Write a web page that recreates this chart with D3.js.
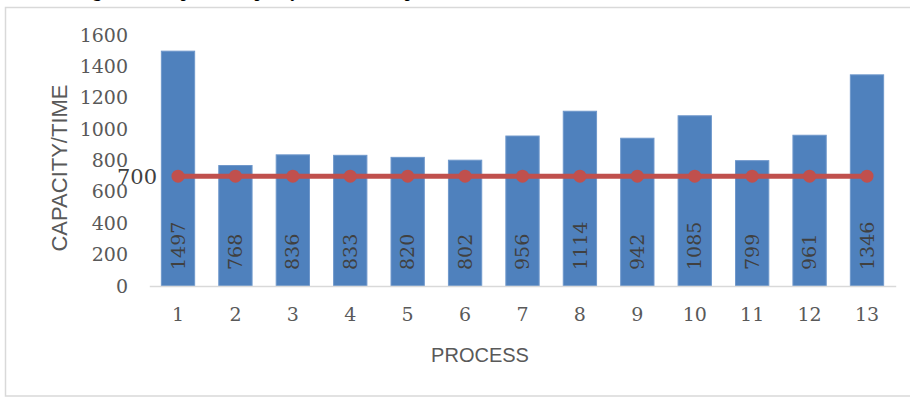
<!DOCTYPE html>
<html>
<head>
<meta charset="utf-8">
<script src="https://cdn.jsdelivr.net/npm/d3@7"></script>
<style>
  body { margin: 0; background: #fff; }
  svg { display: block; }
</style>
</head>
<body>
<svg id="chart" width="910" height="397"></svg>
<script>
// data
var processes = ["1","2","3","4","5","6","7","8","9","10","11","12","13"];
var capacity = [1497, 768, 836, 833, 820, 802, 956, 1114, 942, 1085, 799, 961, 1346];
var taktLine = [700, 700, 700, 700, 700, 700, 700, 700, 700, 700, 700, 700, 700];
var yTicks = [0, 200, 400, 600, 800, 1000, 1200, 1400, 1600];
var taktLabel = "700";
var titleText = "Figure 4: The process capacity and takt time plot";

var svg = d3.select("#chart");
const width = +svg.attr("width"),
      height = +svg.attr("height");

const serif = "'DejaVu Serif', 'Liberation Serif', serif",
      sans = "'Liberation Sans', Arial, sans-serif";

// chart frame
svg.append("rect")
    .attr("x", 5.5).attr("y", 7.5)
    .attr("width", width).attr("height", 388.5)
    .attr("fill", "#fff")
    .attr("stroke", "#d9d9d9")
    .attr("stroke-width", 1.5);

// title sits above the crop, only the descenders peek in
svg.append("text")
    .attr("x", 78).attr("y", -3.5)
    .style("font-family", "'Liberation Serif', serif")
    .style("font-weight", "bold")
    .style("font-size", "17px")
    .attr("fill", "#000")
    .text(titleText);

var x = d3.scaleBand()
    .domain(processes)
    .range([149.3, 895.7])
    .paddingInner(0.42)
    .paddingOuter(0.21);

var y = d3.scaleLinear()
    .domain([0, 1600])
    .range([286, 35]);

// y axis
var yAxis = svg.append("g")
    .attr("transform", "translate(150,0)")
    .call(d3.axisLeft(y).tickValues(yTicks).tickFormat(d3.format("d")).tickSize(0).tickPadding(22));
yAxis.select(".domain").remove();
yAxis.selectAll("text")
    .style("font-family", serif)
    .style("font-size", "19px")
    .attr("fill", "#595959");

// bars
svg.append("g")
    .selectAll("rect")
    .data(capacity)
    .enter().append("rect")
    .attr("x", function(d, i) { return x(processes[i]); })
    .attr("y", function(d) { return y(d); })
    .attr("width", x.bandwidth())
    .attr("height", function(d) { return y(0) - y(d); })
    .attr("fill", "#4f81bd")
    .attr("stroke", "#6f98cb")
    .attr("stroke-width", 1);

// x axis
var xAxis = svg.append("g")
    .attr("transform", "translate(0,286)")
    .call(d3.axisBottom(x).tickSize(0).tickPadding(22));
xAxis.select(".domain")
    .attr("stroke", "#d9d9d9")
    .attr("stroke-width", 1.5);
xAxis.selectAll("text")
    .style("font-family", serif)
    .style("font-size", "19px")
    .attr("fill", "#595959");

// value labels inside the bars
svg.append("g")
    .selectAll("text")
    .data(capacity)
    .enter().append("text")
    .attr("transform", function(d, i) {
        return "translate(" + (x(processes[i]) + x.bandwidth() / 2) + "," + (y(0) - 16) + ") rotate(-90)";
    })
    .attr("dy", "0.35em")
    .style("font-family", serif)
    .style("font-size", "19px")
    .attr("fill", "#404040")
    .text(function(d) { return d; });

// takt line with markers
var line = d3.line()
    .x(function(d, i) { return x(processes[i]) + x.bandwidth() / 2; })
    .y(function(d) { return y(d); });

svg.append("path")
    .datum(taktLine)
    .attr("d", line)
    .attr("fill", "none")
    .attr("stroke", "#c0504d")
    .attr("stroke-width", 5);

svg.append("g")
    .selectAll("circle")
    .data(taktLine)
    .enter().append("circle")
    .attr("cx", function(d, i) { return x(processes[i]) + x.bandwidth() / 2; })
    .attr("cy", function(d) { return y(d); })
    .attr("r", 6.5)
    .attr("fill", "#c0504d");

svg.append("text")
    .attr("x", x(processes[0]) + x.bandwidth() / 2 - 21)
    .attr("y", y(taktLine[0]))
    .attr("dy", "0.35em")
    .attr("text-anchor", "end")
    .style("font-family", serif)
    .style("font-size", "21px")
    .attr("fill", "#404040")
    .text(taktLabel);

// axis titles
svg.append("text")
    .attr("transform", "translate(59,168) rotate(-90)")
    .attr("text-anchor", "middle")
    .attr("dy", "0.35em")
    .style("font-family", sans)
    .style("font-size", "22px")
    .attr("fill", "#595959")
    .text("CAPACITY/TIME");

svg.append("text")
    .attr("x", 480).attr("y", 355)
    .attr("text-anchor", "middle")
    .attr("dy", "0.35em")
    .style("font-family", sans)
    .style("font-size", "20px")
    .attr("fill", "#595959")
    .text("PROCESS");
</script>
</body>
</html>
